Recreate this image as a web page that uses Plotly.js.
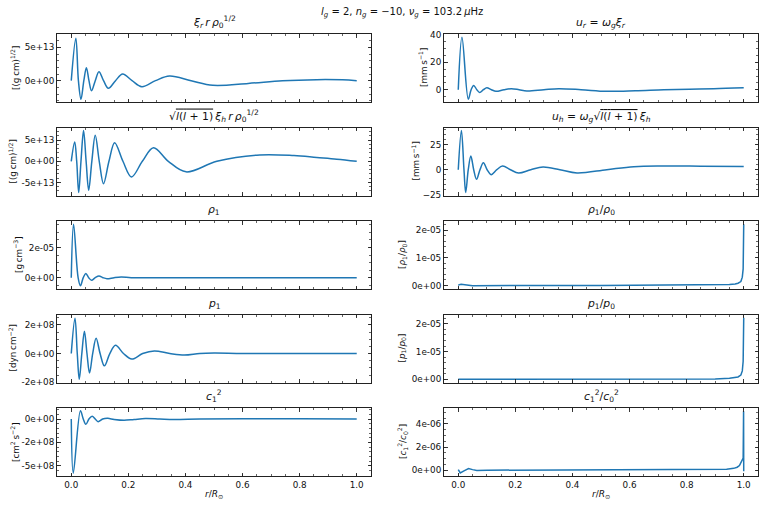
<!DOCTYPE html>
<html><head><meta charset="utf-8">
<script src="https://cdn.plot.ly/plotly-3.0.1.min.js"></script>
<style>html,body{margin:0;padding:0;background:#fff}#chart{width:764px;height:507px}</style>
</head><body><div id="chart"></div>
<script>
// ---------- data (x = r/R_sun) ----------
const xiR_x = [0,0.016,0.025,0.034,0.044,0.053,0.062,0.071,0.084,0.097,0.113,0.130,0.155,0.180,0.213,0.247,0.295,0.344,0.42,0.496,0.62,0.74,0.86,0.95,1.0];
const xiR_y = [0,6.35e13,0,-2.8e13,0,1.95e13,0,-1.5e13,0,1.35e13,0,-1.15e13,0,1.0e13,0,-0.9e13,0,0.7e13,0,-0.7e13,-0.42e13,0,0.15e13,0.12e13,0];

const xiH_x = [0,0.012,0.019,0.026,0.034,0.043,0.052,0.061,0.072,0.084,0.098,0.113,0.132,0.152,0.181,0.211,0.249,0.288,0.34,0.402,0.51,0.66,0.78,0.86,0.93,1.0];
const xiH_y = [0,4.57e13,0,-7.4e13,0,7.3e13,0,-6.85e13,0,6.15e13,0,-5.3e13,0,4.4e13,0,-3.7e13,0,3.2e13,0,-2.5e13,0,1.5e13,1.35e13,0.9e13,0.5e13,0];

const rho1_x = [0,0.008,0.024,0.032,0.042,0.051,0.061,0.071,0.084,0.097,0.111,0.125,0.15,0.175,0.21,0.3,0.6,1.0];
const rho1_y = [0,3.54e-5,0,-0.54e-5,0,0.28e-5,0,-0.17e-5,0,0.11e-5,0,-0.07e-5,0,0.04e-5,0,0,0,0];

const p1_x = [0,0.013,0.021,0.028,0.037,0.046,0.055,0.064,0.075,0.087,0.101,0.116,0.135,0.155,0.183,0.212,0.25,0.291,0.345,0.396,0.45,0.50,0.6,0.8,1.0];
const p1_y = [0,2.45e8,0,-1.8e8,0,1.55e8,0,-1.36e8,0,1.07e8,0,-0.86e8,0,0.57e8,0,-0.39e8,0,0.18e8,0,-0.11e8,0,0.03e8,0,0,0];

const c2_x = [0,0.007,0.032,0.042,0.051,0.062,0.073,0.084,0.094,0.11,0.128,0.15,0.185,0.22,0.26,0.31,0.36,0.45,0.6,0.8,1.0];
const c2_y = [0,-5.8e8,0.89e8,0,-0.57e8,0,0.29e8,0,-0.29e8,0,0.07e8,-0.05e8,-0.14e8,-0.05e8,0.05e8,0,-0.05e8,0,0.02e8,0.02e8,0];

const ur_x = [0,0.013,0.035,0.045,0.054,0.065,0.075,0.088,0.10,0.116,0.132,0.16,0.186,0.213,0.24,0.3,0.352,0.43,0.52,0.62,0.72,0.81,0.895,1.0];
const ur_y = [0,38.3,-6.9,0,3.1,0,-2.1,0,1.4,0,-1.2,0,0.7,0,-0.9,0,0.7,0,-1.2,-0.8,0,0.4,0.7,1.4];

const uh_x = [0,0.011,0.020,0.026,0.035,0.044,0.054,0.064,0.076,0.088,0.101,0.115,0.135,0.155,0.183,0.211,0.254,0.297,0.356,0.416,0.52,0.615,0.72,0.85,1.0];
const uh_y = [0,38.8,0,-22.7,0,13.5,0,-9.5,0,6.9,0,-4.9,0,3.6,0,-3.3,0,2.6,0,-3.3,0,3.0,3.6,3.5,3.3];

const rhoRel_x = [0,0.004,0.01,0.02,0.03,0.05,0.5,0.9,0.95,0.97,0.98,0.99,0.995,0.998,0.9995,1.0];
const rhoRel_y = [0,0.03e-5,0.04e-5,0.03e-5,0,-0.01e-5,0,0.01e-5,0.03e-5,0.05e-5,0.08e-5,0.14e-5,0.3e-5,0.6e-5,1.5e-5,2.22e-5];

const pRel_x = [0,0.5,0.9,0.95,0.97,0.98,0.99,0.995,0.998,0.9995,1.0];
const pRel_y = [0,0,0.01e-5,0.03e-5,0.05e-5,0.08e-5,0.15e-5,0.3e-5,0.65e-5,1.5e-5,2.22e-5];

const cRel_x = [0,0.007,0.02,0.036,0.05,0.065,0.1,0.3,0.6,0.85,0.94,0.965,0.977,0.985,0.992,0.998,0.9995,1.0];
const cRel_y = [0.06e-6,-0.23e-6,-0.05e-6,0.14e-6,0.05e-6,-0.03e-6,0,0.01e-6,0.02e-6,0.05e-6,0.09e-6,0.16e-6,0.26e-6,0.4e-6,0.71e-6,1.06e-6,5.1e-6,-0.1e-6];

// tick labels
const xTickVals = [0,0.2,0.4,0.6,0.8,1.0];
const xTickText = ["0.0","0.2","0.4","0.6","0.8","1.0"];

// ---------- layout helpers ----------
const W = 764, H = 507;
const cols = [[57,371],[444,758]];
const tops = [34,127.5,221,314.5,408];
const PH = 68;
const FONT = "DejaVu Sans, sans-serif";
const LC = "#222";
const TS = '\u2009';
const ol = (s) => '<span style="text-decoration:overline">' + s + '</span>';

const panels = [
  {x:xiR_x, y:xiR_y, shape:'spline', title:'<i>ξ<sub>r</sub></i>'+TS+'<i>r</i>'+TS+'<i>ρ</i><sub>0</sub><sup>1/2</sup>', ylab:'[(g'+TS+'cm)<sup>1/2</sup>]', labx:15,
   range:[-3.2e13,7.0e13], tv:[0,5e13], tt:['0e+00','5e+13'], minor:1e13},
  {x:ur_x, y:ur_y, shape:'spline', title:'<i>u<sub>r</sub></i> = <i>ω<sub>g</sub></i><i>ξ<sub>r</sub></i>', ylab:'[mm'+TS+'s<sup>−1</sup>]', labx:423,
   range:[-9,40.7], tv:[0,20,40], tt:['0','20','40'], minor:5},
  {x:xiH_x, y:xiH_y, shape:'spline', title:'√'+ol('<i>l</i>(<i>l</i> + 1)')+TS+'<i>ξ<sub>h</sub></i>'+TS+'<i>r</i>'+TS+'<i>ρ</i><sub>0</sub><sup>1/2</sup>', ylab:'[(g'+TS+'cm)<sup>1/2</sup>]', labx:12,
   range:[-8.1e13,8.0e13], tv:[-5e13,0,5e13], tt:['-5e+13','0e+00','5e+13'], minor:1e13},
  {x:uh_x, y:uh_y, shape:'spline', title:'<i>u<sub>h</sub></i> = <i>ω<sub>g</sub></i>√'+ol('<i>l</i>(<i>l</i> + 1)')+TS+'<i>ξ<sub>h</sub></i>', ylab:'[mm'+TS+'s<sup>−1</sup>]', labx:415,
   range:[-25.6,41.9], tv:[-25,0,25], tt:['−25','0','25'], minor:5},
  {x:rho1_x, y:rho1_y, shape:'spline', title:'<i>ρ</i><sub>1</sub>', ylab:'[g'+TS+'cm<sup>−3</sup>]', labx:18,
   range:[-0.75e-5,3.75e-5], tv:[0,2e-5], tt:['0e+00','2e-05'], minor:0.5e-5},
  {x:rhoRel_x, y:rhoRel_y, shape:'linear', title:'<i>ρ</i><sub>1</sub>/<i>ρ</i><sub>0</sub>', ylab:'[<i>ρ</i><sub>1</sub>/<i>ρ</i><sub>0</sub>]', labx:402,
   range:[-0.13e-5,2.34e-5], tv:[0,1e-5,2e-5], tt:['0e+00','1e-05','2e-05'], minor:0.2e-5},
  {x:p1_x, y:p1_y, shape:'spline', title:'<i>p</i><sub>1</sub>', ylab:'[dyn'+TS+'cm<sup>−2</sup>]', labx:12,
   range:[-2.02e8,2.72e8], tv:[-2e8,0,2e8], tt:['-2e+08','0e+00','2e+08'], minor:0.5e8},
  {x:pRel_x, y:pRel_y, shape:'linear', title:'<i>p</i><sub>1</sub>/<i>p</i><sub>0</sub>', ylab:'[<i>p</i><sub>1</sub>/<i>p</i><sub>0</sub>]', labx:402,
   range:[-0.12e-5,2.34e-5], tv:[0,1e-5,2e-5], tt:['0e+00','1e-05','2e-05'], minor:0.2e-5},
  {x:c2_x, y:c2_y, shape:'spline', title:'<i>c</i><sub>1</sub><sup>2</sup>', ylab:'[cm<sup>2</sup>'+TS+'s<sup>−2</sup>]', labx:15,
   range:[-6.1e8,1.18e8], tv:[-5e8,-2.5e8,0], tt:['-5e+08','-2e+08','0e+00'], minor:0.5e8},
  {x:cRel_x, y:cRel_y, shape:'linear', title:'<i>c</i><sub>1</sub><sup>2</sup>/<i>c</i><sub>0</sub><sup>2</sup>', ylab:'[<i>c</i><sub>1</sub><sup>2</sup>/<i>c</i><sub>0</sub><sup>2</sup>]', labx:402,
   range:[-0.5e-6,5.38e-6], tv:[0,2e-6,4e-6], tt:['0e+00','2e-06','4e-06'], minor:0.5e-6}
];

const data = [];
const layout = {
  width: W, height: H,
  margin: {l:0, r:0, t:0, b:0, pad:0},
  paper_bgcolor: '#fff', plot_bgcolor: '#fff',
  showlegend: false,
  font: {family: FONT, size: 8.8, color: '#111'},
  annotations: []
};

panels.forEach((p, i) => {
  const k = i + 1;
  const row = Math.floor(i / 2), col = i % 2;
  const xd = [cols[col][0] / W, cols[col][1] / W];
  const top = tops[row], bot = tops[row] + PH;
  const yd = [1 - bot / H, 1 - top / H];
  const xn = k === 1 ? 'xaxis' : 'xaxis' + k;
  const yn = k === 1 ? 'yaxis' : 'yaxis' + k;
  const xr = k === 1 ? 'x' : 'x' + k;
  const yr = k === 1 ? 'y' : 'y' + k;
  data.push({x: p.x, y: p.y, xaxis: xr, yaxis: yr, type: 'scatter', mode: 'lines',
    line: {color: '#1f77b4', width: 1.5, shape: p.shape, smoothing: 1}, hoverinfo: 'skip'});
  const common = {
    showline: true, mirror: 'allticks', linecolor: LC, linewidth: 1,
    ticks: 'inside', ticklen: 3.5, tickwidth: 0.9, tickcolor: LC,
    showgrid: false, zeroline: false, fixedrange: true, automargin: false,
    tickfont: {family: FONT, size: 8.8, color: '#111'}
  };
  layout[xn] = Object.assign({}, common, {
    domain: xd, anchor: yr, range: [-0.05, 1.05],
    tickmode: 'array', tickvals: xTickVals, ticktext: xTickText,
    showticklabels: row === 4,
    minor: {ticks: 'inside', ticklen: 2, tickwidth: 0.7, tickcolor: LC, tickmode: 'linear', tick0: 0, dtick: 0.05, showgrid: false}
  });
  layout[yn] = Object.assign({}, common, {
    domain: yd, anchor: xr, range: p.range,
    tickmode: 'array', tickvals: p.tv, ticktext: p.tt,
    minor: {ticks: 'inside', ticklen: 2, tickwidth: 0.7, tickcolor: LC, tickmode: 'linear', tick0: 0, dtick: p.minor, showgrid: false}
  });
  // panel title
  layout.annotations.push({xref: 'paper', yref: 'paper', x: (xd[0] + xd[1]) / 2, y: yd[1],
    xanchor: 'center', yanchor: 'bottom', yshift: 2, showarrow: false, text: p.title,
    font: {family: FONT, size: 10.8, color: '#111'}});
  // y label
  layout.annotations.push({xref: 'paper', yref: 'paper', x: p.labx / W, y: (yd[0] + yd[1]) / 2,
    xanchor: 'center', yanchor: 'middle', textangle: -90, showarrow: false, text: p.ylab,
    font: {family: FONT, size: 8.8, color: '#111'}});
  if (row === 4) {
    layout.annotations.push({xref: 'paper', yref: 'paper', x: (xd[0] + xd[1]) / 2, y: 1 - 494 / H,
      xanchor: 'center', yanchor: 'middle', showarrow: false, text: '<i>r</i>/<i>R</i><sub>⊙</sub>',
      font: {family: FONT, size: 9, color: '#111'}});
  }
});

// figure title
layout.annotations.push({xref: 'paper', yref: 'paper', x: 402 / W, y: 1 - 12 / H,
  xanchor: 'center', yanchor: 'middle', showarrow: false,
  text: '<i>l<sub>g</sub></i> = 2, <i>n<sub>g</sub></i> = −10, <i>ν<sub>g</sub></i> = 103.2'+TS+'<i>μ</i>Hz',
  font: {family: FONT, size: 10, color: '#111'}});

Plotly.newPlot('chart', data, layout, {displayModeBar: false, staticPlot: true});
</script>
</body></html>
